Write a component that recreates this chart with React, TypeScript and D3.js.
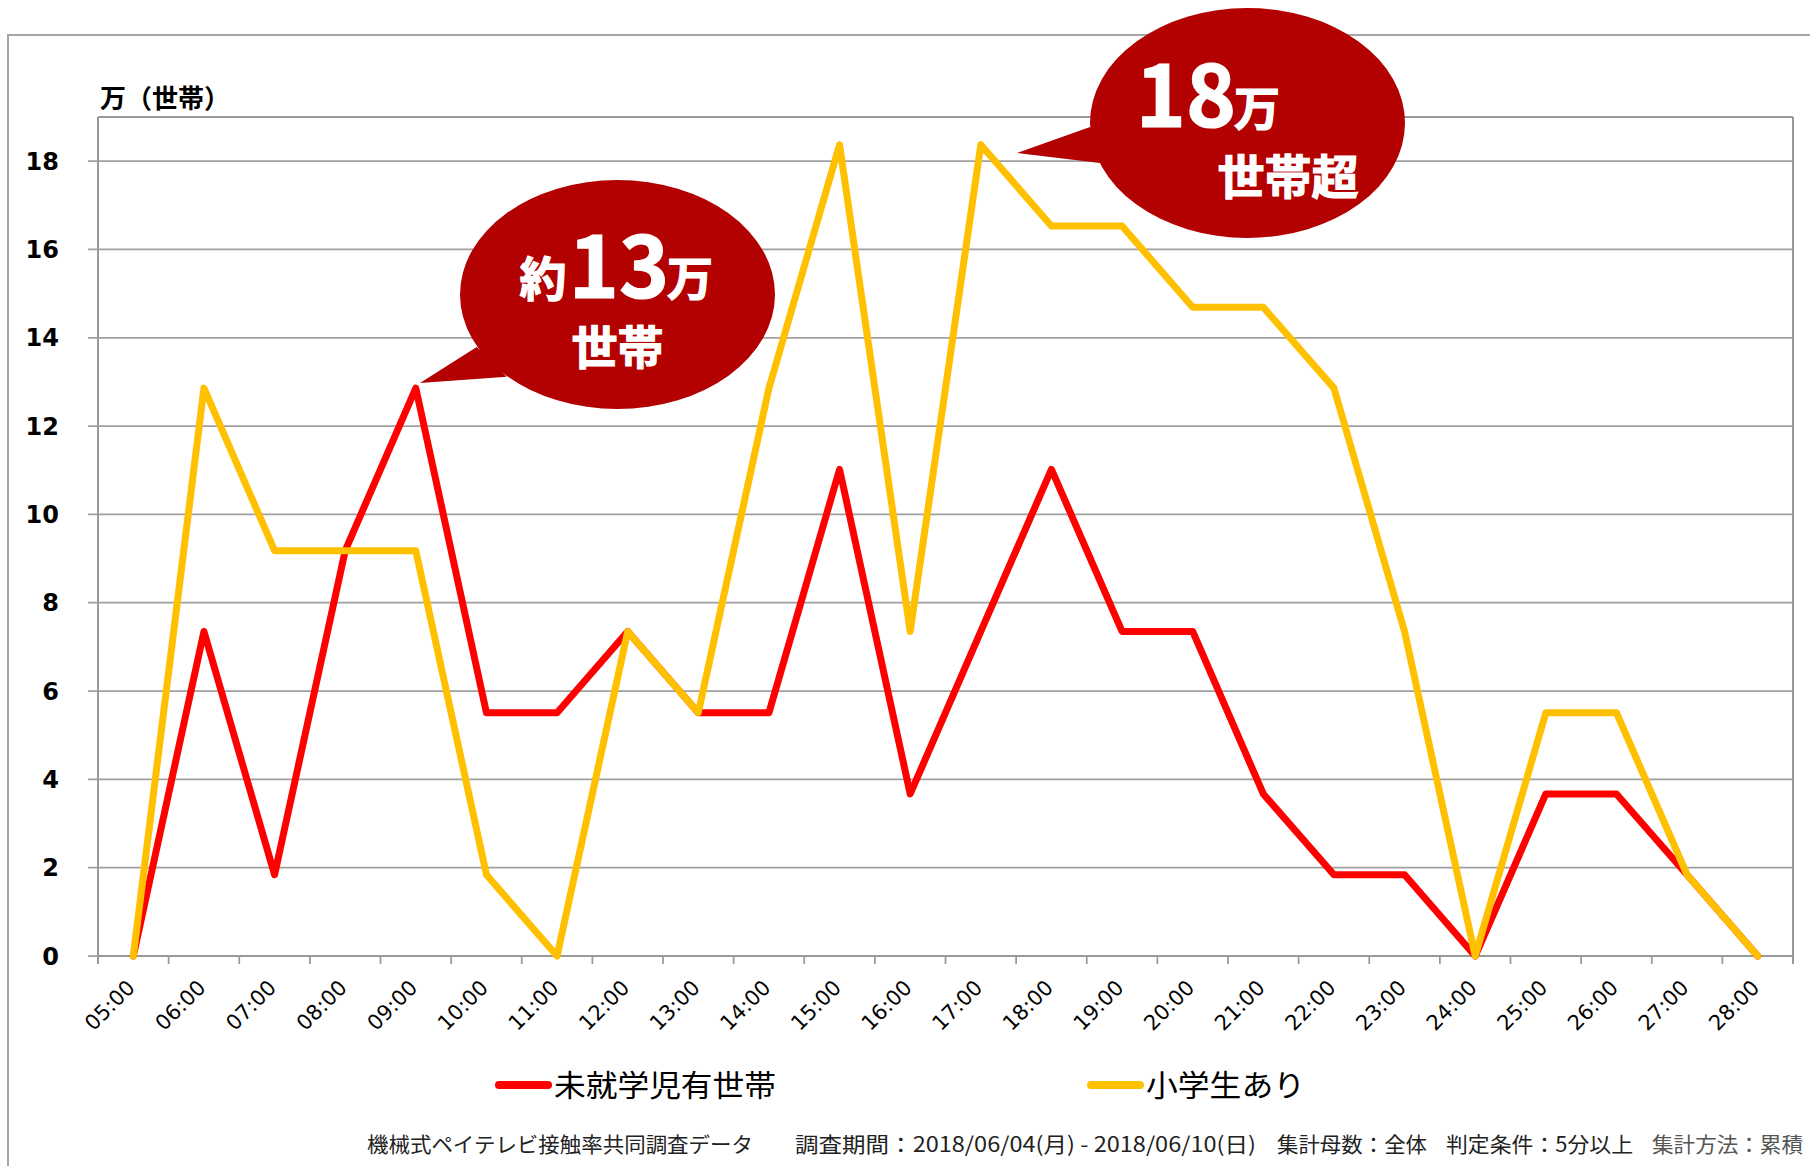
import React from 'react';
import * as d3 from 'd3';

const categories = ['05:00','06:00','07:00','08:00','09:00','10:00','11:00','12:00','13:00','14:00','15:00','16:00','17:00','18:00','19:00','20:00','21:00','22:00','23:00','24:00','25:00','26:00','27:00','28:00'];
const preschool = [0, 7.35, 1.84, 9.18, 12.86, 5.51, 5.51, 7.35, 5.51, 5.51, 11.02, 3.67, 7.35, 11.02, 7.35, 7.35, 3.67, 1.84, 1.84, 0, 3.67, 3.67, 1.84, 0];
const elementary = [0, 12.86, 9.18, 9.18, 9.18, 1.84, 0, 7.35, 5.51, 12.86, 18.37, 7.35, 18.37, 16.53, 16.53, 14.69, 14.69, 12.86, 7.35, 0, 5.51, 5.51, 1.84, 0];
const yTicks = [0, 2, 4, 6, 8, 10, 12, 14, 16, 18];
const seriesNames = ['未就学児有世帯', '小学生あり'];
const seriesColors = ['#FF0000', '#FFC000'];
const yTitle = '万（世帯）';
const footer = [
  { text: '機械式ペイテレビ接触率共同調査データ', x: 367, w: 386, c: '#222' },
  { text: '調査期間：2018/06/04(月) - 2018/06/10(日)', x: 795, w: 461, c: '#222' },
  { text: '集計母数：全体', x: 1277, w: 150, c: '#222' },
  { text: '判定条件：5分以上', x: 1446, w: 187, c: '#222' },
  { text: '集計方法：累積', x: 1652, w: 151, c: '#555' },
];

const W = 1810, H = 1166;
const L = 98, R = 1793, T = 117, B = 956;
const BUBBLE = '#B30000';
const CJK = '"Noto Sans CJK JP", sans-serif';

export default function App() {
  const x = d3.scaleBand().domain(categories).range([L, R]);
  const y = d3.scaleLinear().domain([0, 19]).range([B, T]);
  const cx = (c: string) => (x(c) as number) + x.bandwidth() / 2;
  const line = d3.line<number>().x((_, i) => cx(categories[i])).y((v) => y(v));
  const boundaries = d3.range(categories.length + 1).map((i) => L + i * x.bandwidth());

  const ell = (ex: number, ey: number, rx: number, ry: number) =>
    `M${ex - rx},${ey} a${rx},${ry} 0 1,0 ${2 * rx},0 a${rx},${ry} 0 1,0 ${-2 * rx},0 Z`;

  const bt = { fontFamily: CJK, fontWeight: 'bold' as const, fill: '#fff', stroke: '#fff', strokeWidth: 1.2 };

  return (
    <svg width={W} height={H} style={{ position: 'absolute', left: 0, top: 0, display: 'block', background: '#fff' }}>
      <rect x={8} y={35} width={2000} height={1500} fill="#fff" stroke="#A6A6A6" strokeWidth={2} />
      {/* gridlines */}
      {yTicks.map((t) => (
        <g key={t}>
          <line x1={L - 10} x2={R} y1={y(t)} y2={y(t)} stroke="#A0A0A0" strokeWidth={1.75} />
          <text x={59} y={y(t)} dy="0.36em" textAnchor="end" fontFamily="DejaVu Sans" fontWeight="bold" fontSize={24} fill="#000">{t}</text>
        </g>
      ))}
      {/* plot border */}
      <line x1={L} x2={R} y1={T} y2={T} stroke="#999" strokeWidth={2} />
      <line x1={R} x2={R} y1={T} y2={B + 8} stroke="#999" strokeWidth={2} />
      <line x1={L} x2={L} y1={T} y2={B + 8} stroke="#999" strokeWidth={2} />
      <line x1={L} x2={R} y1={B} y2={B} stroke="#999" strokeWidth={2} />
      {boundaries.map((bx, i) => (
        <line key={i} x1={bx} x2={bx} y1={B} y2={B + 8} stroke="#999" strokeWidth={1.75} />
      ))}
      {categories.map((c) => (
        <text key={c} transform={`translate(${cx(c) - 2},${984}) rotate(-45)`} textAnchor="end" dominantBaseline="central" fontFamily="DejaVu Sans" fontSize={21} fill="#000">{c}</text>
      ))}
      <text x={100} y={108} fontFamily={CJK} fontWeight="bold" fontSize={26} fill="#000">{yTitle}</text>

      {/* series */}
      <path d={line(preschool) || ''} fill="none" stroke={seriesColors[0]} strokeWidth={7} strokeLinejoin="round" strokeLinecap="round" />
      <path d={line(elementary) || ''} fill="none" stroke={seriesColors[1]} strokeWidth={7} strokeLinejoin="round" strokeLinecap="round" />

      {/* bubble 1 */}
      <path d={ell(617.5, 294.5, 157.5, 114.5) + ' M476.7,347 L420,383 L506.7,376.7 Z'} fill={BUBBLE} />
      <text {...bt}>
        <tspan x={543} y={296} textAnchor="middle" fontSize={47}>約</tspan>
        <tspan x={619} y={298} textAnchor="middle" fontSize={85}>13</tspan>
        <tspan x={690} y={295} textAnchor="middle" fontSize={46}>万</tspan>
        <tspan x={617.5} y={364} textAnchor="middle" fontSize={46}>世帯</tspan>
      </text>

      {/* bubble 2 */}
      <path d={ell(1247.5, 123, 157.5, 115) + ' M1090,127 L1017,153 L1100,163 Z'} fill={BUBBLE} />
      <text {...bt}>
        <tspan x={1186} y={127} textAnchor="middle" fontSize={85}>18</tspan>
        <tspan x={1257} y={125} textAnchor="middle" fontSize={46}>万</tspan>
        <tspan x={1288} y={194} textAnchor="middle" fontSize={47}>世帯超</tspan>
      </text>

      {/* legend */}
      <line x1={499} x2={548} y1={1085} y2={1085} stroke={seriesColors[0]} strokeWidth={8} strokeLinecap="round" />
      <text x={554} y={1096} fontFamily={CJK} fontSize={30} fill="#000" textLength={222} lengthAdjust="spacingAndGlyphs">{seriesNames[0]}</text>
      <line x1={1091} x2={1140} y1={1085} y2={1085} stroke={seriesColors[1]} strokeWidth={8} strokeLinecap="round" />
      <text x={1146} y={1096} fontFamily={CJK} fontSize={30} fill="#000" textLength={159} lengthAdjust="spacingAndGlyphs">{seriesNames[1]}</text>

      {/* footer */}
      {footer.map((f) => (
        <text key={f.text} x={f.x} y={1152} fontFamily={CJK} fontSize={21} fill={f.c} textLength={f.w} lengthAdjust="spacingAndGlyphs">{f.text}</text>
      ))}
    </svg>
  );
}
